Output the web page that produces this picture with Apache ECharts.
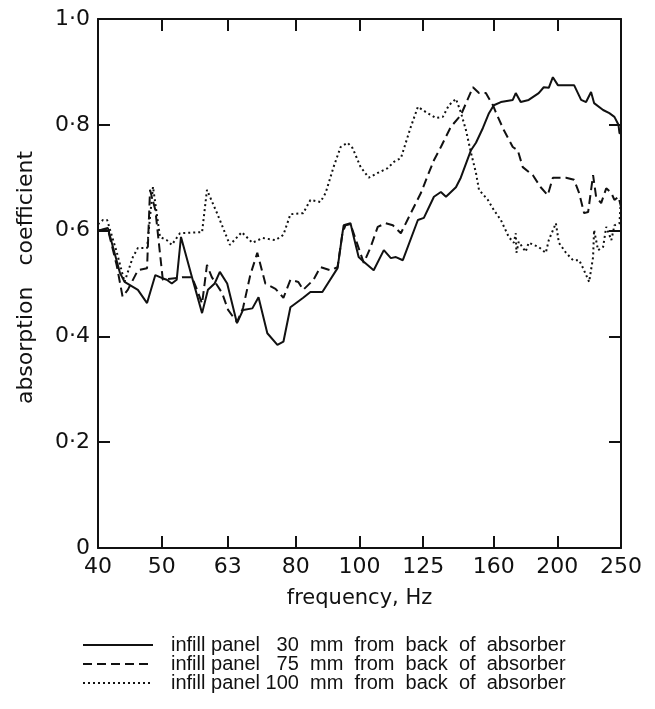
<!DOCTYPE html>
<html>
<head>
<meta charset="utf-8">
<script src="https://cdn.jsdelivr.net/npm/echarts@6/dist/echarts.min.js"></script>
<style>
  html, body { margin: 0; padding: 0; background: #fff; }
  #chart { width: 655px; height: 709px; }
</style>
</head>
<body>
<div id="chart"></div>
<script>
// third-octave band labels on the frequency axis
var freqTicks = [40, 50, 63, 80, 100, 125, 160, 200, 250];
var alphaTicks = [0, 0.2, 0.4, 0.6, 0.8, 1.0];

// wide word spacing as in the printed key
var seriesNames = [
    'infill panel   30  mm  from  back  of  absorber',
    'infill panel   75  mm  from  back  of  absorber',
    'infill panel 100  mm  from  back  of  absorber'
];

// infill panel 30 mm (solid)
var freq30 = [40.0, 41.4, 43.2, 43.9, 46.0, 47.5, 48.9, 50.1, 50.9, 51.8, 52.7, 53.5, 55.6, 57.6, 58.8, 60.2, 61.3, 62.9,
    65.1, 66.5, 68.7, 70.2, 72.4, 75.0, 76.6, 78.5, 82.1, 84.2, 87.8, 92.6, 94.2, 94.6, 96.9, 98.0, 99.7, 101.5, 105.1,
    108.9, 111.6, 113.6, 116.4, 122.7, 125.3, 129.8, 133.0, 135.4, 140.2, 142.6, 147.8, 150.4, 154.1, 157.4, 160.1,
    164.1, 171.1, 172.9, 175.9, 180.9, 187.4, 190.7, 194.1, 196.9, 200.4, 212.1, 217.4, 221.2, 225.1, 227.5, 234.8,
    240.0, 244.3, 247.8, 248.7, 250.0];
var alpha30 = [0.600, 0.605, 0.520, 0.503, 0.488, 0.463, 0.516, 0.510, 0.507, 0.500, 0.507, 0.588, 0.512, 0.444, 0.488, 0.500, 0.522, 0.500,
    0.425, 0.450, 0.453, 0.474, 0.406, 0.384, 0.390, 0.455, 0.473, 0.484, 0.484, 0.529, 0.595, 0.610, 0.614, 0.588, 0.550, 0.541, 0.525,
    0.563, 0.548, 0.550, 0.544, 0.620, 0.624, 0.664, 0.673, 0.664, 0.682, 0.700, 0.752, 0.766, 0.794, 0.822, 0.837,
    0.843, 0.847, 0.860, 0.843, 0.847, 0.860, 0.871, 0.870, 0.890, 0.875, 0.875, 0.847, 0.843, 0.862, 0.841, 0.828,
    0.822, 0.815, 0.800, 0.784, 0.784];

// infill panel 75 mm (dashed)
var freq75 = [40.0, 41.4, 42.7, 43.6, 44.4, 46.0, 47.5, 48.0, 48.9, 50.2, 53.9, 55.6, 56.6, 57.6, 58.6, 59.6, 61.8, 63.1,
    65.1, 66.5, 68.2, 69.9, 71.9, 74.5, 76.6, 78.5, 80.7, 82.1, 85.1, 87.2, 90.3, 92.6, 94.2, 95.2, 96.9, 101.5, 104.0,
    106.6, 109.6, 112.4, 115.6, 119.7, 124.0, 127.1, 129.8, 133.0, 137.7, 142.6, 148.8, 152.0, 155.7, 159.6, 161.2,
    165.8, 171.1, 174.1, 177.2, 183.5, 188.7, 193.4, 196.9, 206.2, 212.1, 215.9, 219.7, 222.8, 226.7, 229.1, 233.2,
    237.4, 241.7, 244.3, 247.8, 250.0];
var alpha75 = [0.600, 0.603, 0.535, 0.475, 0.488, 0.525, 0.529, 0.677, 0.639, 0.507, 0.512, 0.512, 0.488, 0.462, 0.535, 0.512, 0.482, 0.450,
    0.427, 0.454, 0.516, 0.558, 0.500, 0.490, 0.473, 0.507, 0.503, 0.488, 0.507, 0.531, 0.525, 0.531, 0.595, 0.610, 0.612, 0.539, 0.569,
    0.607, 0.614, 0.610, 0.595, 0.633, 0.671, 0.705, 0.733, 0.758, 0.796, 0.818, 0.871, 0.860, 0.860, 0.837, 0.824,
    0.790, 0.758, 0.752, 0.720, 0.705, 0.682, 0.667, 0.700, 0.700, 0.696, 0.671, 0.633, 0.635, 0.705, 0.664, 0.652,
    0.680, 0.671, 0.658, 0.664, 0.645];

// infill panel 100 mm (dotted)
var freq100 = [40.0, 40.7, 41.3, 42.7, 43.9, 45.2, 46.0, 47.5, 48.5, 49.7, 50.9, 51.8, 53.3, 57.6, 58.6, 60.7, 63.5, 66.2,
    68.7, 71.2, 74.5, 76.6, 78.5, 82.1, 84.2, 87.2, 88.8, 91.3, 93.6, 95.9, 97.6, 100.4, 103.3, 106.6, 110.4, 112.8,
    115.6, 119.7, 122.7, 126.2, 130.7, 133.9, 136.8, 140.2, 142.6, 145.2, 147.8, 150.4, 152.0, 156.8, 160.1, 164.1,
    168.7, 171.7, 172.9, 173.3, 174.7, 179.0, 180.9, 187.4, 192.1, 194.1, 199.0, 201.1, 206.2, 211.3, 215.9, 218.9,
    223.6, 226.7, 227.5, 230.7, 234.8, 237.4, 241.7, 244.3, 248.7, 250.0];
var alpha100 = [0.612, 0.620, 0.620, 0.560, 0.503, 0.550, 0.567, 0.567, 0.683, 0.588, 0.582, 0.573, 0.595, 0.597, 0.677, 0.633, 0.573, 0.597,
    0.577, 0.586, 0.582, 0.592, 0.631, 0.633, 0.658, 0.654, 0.671, 0.720, 0.758, 0.766, 0.756, 0.720, 0.700, 0.709, 0.718, 0.730,
    0.737, 0.796, 0.834, 0.824, 0.813, 0.815, 0.837, 0.849, 0.824, 0.790, 0.747, 0.709, 0.677, 0.658, 0.639, 0.620,
    0.588, 0.577, 0.595, 0.558, 0.579, 0.560, 0.577, 0.569, 0.558, 0.582, 0.614, 0.577, 0.558, 0.544, 0.544, 0.529,
    0.503, 0.550, 0.601, 0.563, 0.569, 0.607, 0.582, 0.610, 0.614, 0.665];

var ink = '#111';

// log-frequency axis: positions are log10(Hz)
function toPoints(freqs, vals) {
    return freqs.map(function (f, i) { return [Math.log10(f), vals[i]]; });
}
var logTicks = freqTicks.map(function (f) { return Math.log10(f); });

var chart = echarts.init(document.getElementById('chart'), null, { renderer: 'canvas' });

var xAxisBase = {
    type: 'value',
    min: Math.log10(freqTicks[0]),
    max: Math.log10(freqTicks[freqTicks.length - 1]),
    splitLine: { show: false },
    axisLine: { show: true, onZero: false, lineStyle: { color: ink, width: 2 } },
    axisTick: { show: true, inside: true, length: 12, customValues: logTicks, lineStyle: { color: ink, width: 2 } }
};

var yAxisBase = {
    type: 'value',
    min: alphaTicks[0],
    max: alphaTicks[alphaTicks.length - 1],
    interval: 0.2,
    splitLine: { show: false },
    axisLine: { show: true, lineStyle: { color: ink, width: 2 } },
    axisTick: { show: true, inside: true, length: 12, lineStyle: { color: ink, width: 2 } }
};

var option = {
    animation: false,
    backgroundColor: '#fff',
    grid: { left: 98, right: 34, top: 19, bottom: 161 },
    xAxis: [
        Object.assign({}, xAxisBase, {
            position: 'bottom',
            name: 'frequency, Hz',
            nameLocation: 'middle',
            nameGap: 40,
            nameTextStyle: { fontFamily: 'DejaVu Sans', fontSize: 21, color: ink },
            axisLabel: {
                show: true,
                margin: 8,
                customValues: logTicks,
                fontFamily: 'DejaVu Sans',
                fontSize: 22,
                color: ink,
                formatter: function (v) { return String(Math.round(Math.pow(10, v))); }
            }
        }),
        Object.assign({}, xAxisBase, {
            position: 'top',
            axisLabel: { show: false }
        })
    ],
    yAxis: [
        Object.assign({}, yAxisBase, {
            position: 'left',
            name: 'absorption   coefficient',
            nameLocation: 'middle',
            nameRotate: 90,
            nameGap: 61,
            nameTextStyle: { fontFamily: 'DejaVu Sans', fontSize: 22, color: ink, padding: [0, 0, 0, 12] },
            axisLabel: {
                show: true,
                margin: 8,
                fontFamily: 'DejaVu Sans',
                fontSize: 22,
                color: ink,
                formatter: function (v) { return v === 0 ? '0' : v.toFixed(1).replace('.', '\u00b7'); }
            }
        }),
        Object.assign({}, yAxisBase, {
            position: 'right',
            axisLabel: { show: false }
        })
    ],
    legend: {
        orient: 'vertical',
        left: 77,
        top: 630,
        itemWidth: 70,
        itemHeight: 10,
        itemGap: -1,
        selectedMode: false,
        data: seriesNames,
        itemStyle: { opacity: 0 },
        textStyle: { fontFamily: 'Liberation Sans', fontSize: 20, lineHeight: 17.5, color: ink, padding: [0, 0, 0, 13] }
    },
    series: [
        {
            name: seriesNames[0], type: 'line', xAxisIndex: 0, yAxisIndex: 0,
            symbol: 'none', data: toPoints(freq30, alpha30),
            itemStyle: { color: ink },
            lineStyle: { color: ink, width: 2, type: 'solid' }
        },
        {
            name: seriesNames[1], type: 'line', xAxisIndex: 0, yAxisIndex: 0,
            symbol: 'none', data: toPoints(freq75, alpha75),
            itemStyle: { color: ink },
            lineStyle: { color: ink, width: 2, type: [9, 5] }
        },
        {
            name: seriesNames[2], type: 'line', xAxisIndex: 0, yAxisIndex: 0,
            symbol: 'none', data: toPoints(freq100, alpha100),
            itemStyle: { color: ink },
            lineStyle: { color: ink, width: 2, type: [2, 3] }
        }
    ]
};

chart.setOption(option);
</script>
</body>
</html>
